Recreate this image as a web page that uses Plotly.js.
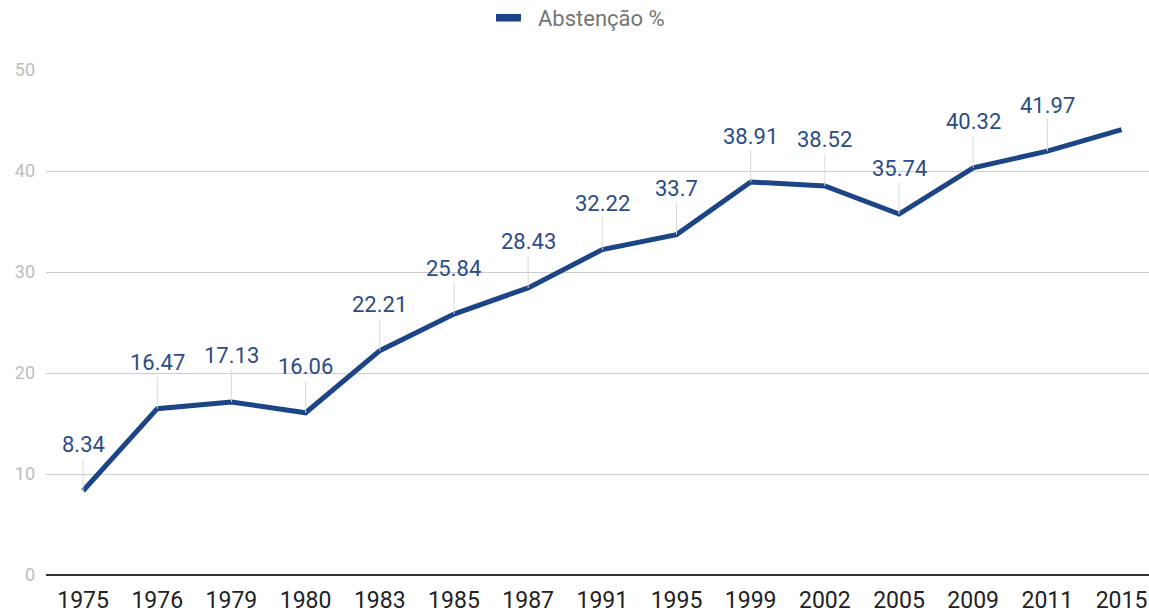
<!DOCTYPE html>
<html>
<head>
<meta charset="utf-8">
<script src="https://cdn.plot.ly/plotly-3.0.1.min.js"></script>
<style>html,body{margin:0;padding:0;background:#fff;}#chart{width:1149px;height:614px;}</style>
</head>
<body>
<div id="chart"></div>
<script>
const years = ['1975','1976','1979','1980','1983','1985','1987','1991','1995','1999','2002','2005','2009','2011','2015'];
const abstencao = [8.34, 16.47, 17.13, 16.06, 22.21, 25.84, 28.43, 32.22, 33.7, 38.91, 38.52, 35.74, 40.32, 41.97, 44.1];
const labelTexts = ['8.34','16.47','17.13','16.06','22.21','25.84','28.43','32.22','33.7','38.91','38.52','35.74','40.32','41.97',''];
const seriesName = 'Abstenção %';
const yTicks = [0, 10, 20, 30, 40, 50];

const lineColor = '#1c4587';

const annotations = [];
years.forEach((y, i) => {
  if (!labelTexts[i]) return;
  annotations.push({
    x: i, y: abstencao[i], xref: 'x', yref: 'y',
    text: labelTexts[i],
    showarrow: true, arrowhead: 0, arrowwidth: 1, arrowcolor: '#d9d9d9',
    ax: 0, ay: -46,
    font: {family: 'Roboto', size: 22, color: '#2b4c88'}
  });
});
// legend text (custom legend to match swatch style)
annotations.push({
  xref: 'paper', yref: 'paper', x: 0.444, y: 1.102, xanchor: 'left', yanchor: 'middle',
  text: seriesName, showarrow: false,
  font: {family: 'Roboto', size: 22, color: '#757575'}
});

const trace = {
  x: years, y: abstencao, type: 'scatter', mode: 'lines', name: seriesName,
  line: {color: lineColor, width: 5}, showlegend: false
};

const layout = {
  width: 1149, height: 614,
  margin: {l: 46, r: 0, t: 70, b: 39},
  paper_bgcolor: '#fff', plot_bgcolor: '#fff',
  font: {family: 'Roboto'},
  showlegend: false,
  xaxis: {type: 'category', range: [-0.5, 14.37], showgrid: false, zeroline: false,
          showline: false, ticks: '', tickfont: {family: 'Roboto', size: 23, color: '#222'},
          ticklabelstandoff: 9, fixedrange: true},
  yaxis: {range: [0, 50], tickvals: yTicks, showgrid: true, gridcolor: '#cccccc', gridwidth: 1,
          zeroline: true, zerolinecolor: '#333333', zerolinewidth: 2, showline: false, ticks: '',
          tickfont: {family: 'Roboto', size: 18, color: '#bdbdbd'}, ticklabelstandoff: 10, fixedrange: true},
  shapes: [{
    type: 'rect', xref: 'paper', yref: 'paper', x0: 0.408, x1: 0.4306, y0: 1.096, y1: 1.111,
    fillcolor: lineColor, line: {width: 0}
  }],
  annotations: annotations
};

Plotly.newPlot('chart', [trace], layout, {displayModeBar: false, staticPlot: true});
</script>
</body>
</html>
